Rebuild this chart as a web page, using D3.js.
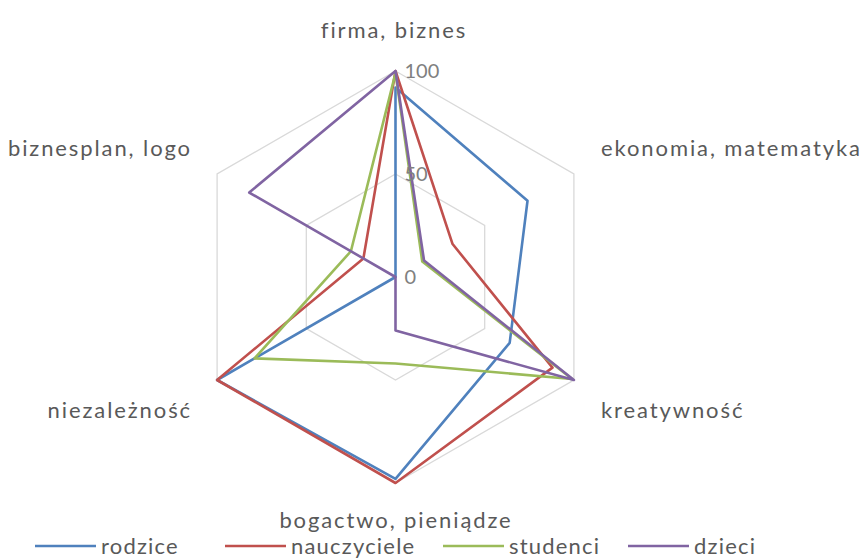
<!DOCTYPE html>
<html><head><meta charset="utf-8">
<script src="https://cdn.jsdelivr.net/npm/d3@7"></script>
<style>body{margin:0;background:#fff;} text{font-family:Lato, "Liberation Sans", sans-serif;}</style>
</head><body>
<svg id="c" width="866" height="558"></svg>
<script>
const categories = ["firma, biznes", "ekonomia, matematyka", "kreatywność", "bogactwo, pieniądze", "niezależność", "biznesplan, logo"];
const seriesNames = ["rodzice", "nauczyciele", "studenci", "dzieci"];
const rodzice = [92, 74, 64, 98, 100, 0];
const nauczyciele = [100, 32, 88, 100, 100, 18];
const studenci = [99, 15, 99, 42, 79, 25];
const dzieci = [100, 16, 100, 26, 0, 82];
const tickValues = [0, 50, 100];
const colors = ["#4F81BD", "#C0504D", "#9BBB59", "#8064A2"];

const svg = d3.select("#c");
const cx = 395.5, cy = 277, R = 206;
const r = d3.scaleLinear().domain([0, 100]).range([0, R]);
const ang = d3.scalePoint().domain(categories).range([0, 2*Math.PI*(categories.length-1)/categories.length]);
const pt = (c, v) => [cx + r(v)*Math.sin(ang(c)), cy - r(v)*Math.cos(ang(c))];

// grid hexagons
tickValues.filter(t => t > 0).forEach(t => {
  svg.append("path")
    .attr("d", d3.line()(categories.map(c => pt(c, t))) + "Z")
    .attr("fill", "none").attr("stroke", "#D9D9D9").attr("stroke-width", 1.3);
});

// series
const data = [rodzice, nauczyciele, studenci, dzieci];
data.forEach((vals, i) => {
  svg.append("path")
    .attr("d", d3.line()(categories.map((c, j) => pt(c, vals[j]))) + "Z")
    .attr("fill", "none").attr("stroke", colors[i]).attr("stroke-width", 2.6)
    .attr("stroke-linejoin", "round");
});

// tick labels
tickValues.forEach(t => {
  svg.append("text").attr("x", cx + 9).attr("y", cy - r(t)).attr("dy", "0.35em")
    .attr("font-size", 20).attr("fill", "#808080").text(t);
});

// category labels
const labelPos = [
  {x: 394, y: 30, a: "middle"},
  {x: 601, y: 148, a: "start"},
  {x: 601, y: 410, a: "start"},
  {x: 396, y: 520, a: "middle"},
  {x: 192, y: 410, a: "end"},
  {x: 192, y: 148, a: "end"}
];
categories.forEach((c, i) => {
  svg.append("text").attr("x", labelPos[i].x).attr("y", labelPos[i].y).attr("dy", "0.35em")
    .attr("text-anchor", labelPos[i].a).attr("font-size", 22).attr("letter-spacing", 1.9)
    .attr("fill", "#595959").text(c);
});

// legend
const legX = [35, 225, 443, 628];
seriesNames.forEach((n, i) => {
  svg.append("line").attr("x1", legX[i]).attr("x2", legX[i] + 61).attr("y1", 546).attr("y2", 546)
    .attr("stroke", colors[i]).attr("stroke-width", 2.6);
  svg.append("text").attr("x", legX[i] + 66).attr("y", 546).attr("dy", "0.35em")
    .attr("font-size", 22).attr("letter-spacing", 1.2).attr("fill", "#595959").text(n);
});
</script>
</body></html>
